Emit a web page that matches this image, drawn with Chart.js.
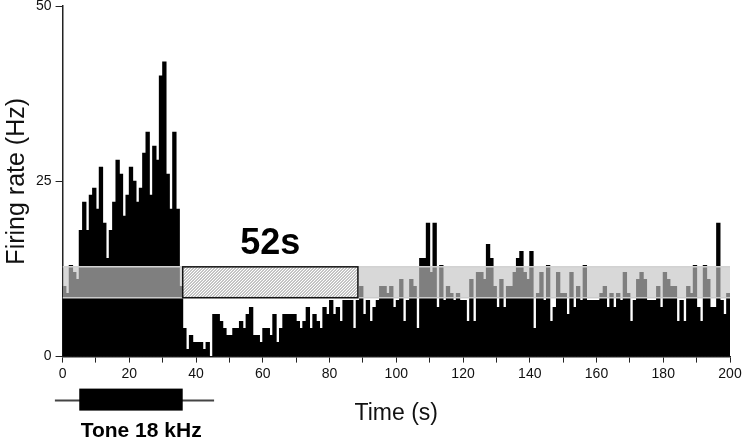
<!DOCTYPE html>
<html>
<head>
<meta charset="utf-8">
<script src="https://cdn.jsdelivr.net/npm/chart.js@4.4.0/dist/chart.umd.min.js"></script>
<style>
  html, body { margin: 0; padding: 0; background: #fff; }
  #wrap { width: 742px; height: 437px; }
</style>
</head>
<body>
<div id="wrap"><canvas id="psth"></canvas></div>
<script>
// firing rate per 1 s bin, t = 0..199 s
const rates = [
  10, 9, 13, 12, 11, 18, 22, 18, 23, 24, 21, 27, 19, 14, 18, 22, 28, 26, 20, 23,
  27, 25, 22, 24, 29, 32, 23, 30, 28, 40, 42, 26, 21, 32, 21, 10, 4, 1, 3, 2,
  2, 2, 1, 2, 0, 6, 6, 5, 4, 3, 3, 4, 4, 5, 4, 6, 7, 3, 3, 2,
  4, 4, 3, 6, 2, 4, 6, 6, 6, 6, 5, 4, 5, 7, 4, 6, 5, 4, 7, 6,
  8, 6, 7, 5, 8, 8, 8, 4, 8, 10, 6, 8, 5, 7, 8, 10, 10, 9, 10, 7,
  8, 11, 5, 8, 11, 10, 4, 14, 14, 19, 12, 19, 7, 13, 8, 10, 9, 8, 9, 8,
  8, 5, 11, 5, 12, 12, 11, 16, 14, 10, 7, 11, 7, 10, 10, 12, 14, 15, 12, 11,
  15, 4, 9, 12, 8, 13, 5, 7, 12, 9, 9, 6, 12, 7, 10, 8, 13, 8, 8, 8,
  8, 9, 10, 7, 9, 7, 9, 8, 12, 9, 5, 8, 11, 12, 11, 8, 8, 8, 10, 7,
  12, 11, 10, 10, 5, 8, 5, 10, 9, 13, 7, 5, 13, 11, 7, 7, 19, 8, 6, 9
];
const binWidth = 1;
const timeMax = 200;
const rateMax = 50;

// baseline band (Hz) and the 52 s window
const bandLow = 8.4;
const bandHigh = 12.8;
const gapStart = 36;
const gapEnd = 88.5;
const gapLabel = '52s';

// tone bar under the axis (s)
const toneStart = 5;
const toneEnd = 36;
const toneLineStart = -2.3;
const toneLineEnd = 45.4;
const toneLabel = 'Tone 18 kHz';

const FONT = "'Liberation Sans', Arial, sans-serif";

const overlay = {
  id: 'overlay',
  afterDatasetsDraw(chart) {
    const { ctx } = chart;
    const x = chart.scales.x, y = chart.scales.y;
    const left = x.getPixelForValue(gapStart);
    const right = x.getPixelForValue(gapEnd);
    const top = y.getPixelForValue(bandHigh);
    const bottom = y.getPixelForValue(bandLow);
    const w = right - left, h = bottom - top;

    ctx.save();
    ctx.fillStyle = '#fff';
    ctx.fillRect(left, top, w, h);
    ctx.beginPath();
    ctx.rect(left, top, w, h);
    ctx.clip();
    ctx.strokeStyle = '#8a8a8a';
    ctx.lineWidth = 1;
    ctx.beginPath();
    for (let i = -h; i < w + h; i += 3) {
      ctx.moveTo(left + i, bottom);
      ctx.lineTo(left + i + h, top);
    }
    ctx.stroke();
    ctx.restore();

    ctx.save();
    ctx.strokeStyle = '#111';
    ctx.lineWidth = 1.5;
    ctx.strokeRect(left, top, w, h);
    ctx.fillStyle = '#000';
    ctx.font = 'bold 36px ' + FONT;
    ctx.textAlign = 'center';
    ctx.textBaseline = 'alphabetic';
    ctx.fillText(gapLabel, (left + right) / 2, top - 13);
    ctx.restore();
  },
  afterDraw(chart) {
    const { ctx } = chart;
    const x = chart.scales.x;
    const base = chart.chartArea.bottom;
    ctx.save();
    ctx.strokeStyle = '#444';
    ctx.lineWidth = 2;
    ctx.beginPath();
    ctx.moveTo(x.getPixelForValue(toneLineStart), base + 44);
    ctx.lineTo(x.getPixelForValue(toneLineEnd), base + 44);
    ctx.stroke();
    const a = x.getPixelForValue(toneStart), b = x.getPixelForValue(toneEnd);
    ctx.fillStyle = '#000';
    ctx.fillRect(a, base + 32, b - a, 22);
    ctx.font = 'bold 21px ' + FONT;
    ctx.textAlign = 'center';
    ctx.textBaseline = 'alphabetic';
    ctx.fillText(toneLabel, x.getPixelForValue((toneLineStart + toneLineEnd) / 2 + 2), base + 80);
    ctx.restore();
  }
};

new Chart(document.getElementById('psth'), {
  type: 'bar',
  data: {
    datasets: [
      {
        type: 'line',
        data: [{ x: 0, y: bandHigh }, { x: timeMax, y: bandHigh }],
        borderColor: '#d2d2d2',
        borderWidth: 1.5,
        pointRadius: 0,
        fill: '+1',
        backgroundColor: 'rgba(195,195,195,0.65)',
        order: 1
      },
      {
        type: 'line',
        data: [{ x: 0, y: bandLow }, { x: timeMax, y: bandLow }],
        borderColor: '#d2d2d2',
        borderWidth: 1.5,
        pointRadius: 0,
        fill: false,
        order: 2
      },
      {
        data: rates.map((r, i) => ({ x: i * binWidth + binWidth / 2, y: r })),
        backgroundColor: '#000',
        borderWidth: 0,
        barPercentage: 1,
        categoryPercentage: 1,
        inflateAmount: 0.5,
        order: 3
      }
    ]
  },
  options: {
    responsive: true,
    maintainAspectRatio: false,
    animation: false,
    devicePixelRatio: 1,
    layout: { padding: { left: 2, right: 12, top: 0, bottom: 10 } },
    plugins: { legend: { display: false }, tooltip: { enabled: false } },
    scales: {
      x: {
        type: 'linear',
        min: 0,
        max: timeMax,
        offset: false,
        grid: { display: true, drawOnChartArea: false, drawTicks: true, tickLength: 6, color: '#222', offset: false },
        border: { display: true, color: '#222', width: 1.5 },
        ticks: {
          stepSize: 10,
          autoSkip: false,
          maxRotation: 0,
          padding: 3,
          color: '#111',
          font: { family: FONT, size: 14 },
          callback: v => (v % 20 === 0 ? v : '')
        },
        title: {
          display: true,
          text: 'Time (s)',
          color: '#111',
          font: { family: FONT, size: 23 },
          padding: { top: 14, bottom: 0 }
        },
        afterFit: scale => { scale.paddingRight = 0; }
      },
      y: {
        min: 0,
        max: rateMax,
        grid: { display: true, drawOnChartArea: false, drawTicks: true, tickLength: 7, color: '#222' },
        border: { display: true, color: '#222', width: 1.5 },
        ticks: {
          stepSize: 25,
          padding: 4,
          color: '#111',
          font: { family: FONT, size: 14 }
        },
        title: {
          display: true,
          text: 'Firing rate (Hz)',
          color: '#111',
          font: { family: FONT, size: 25 },
          padding: { top: 0, bottom: 0 }
        },
        afterFit: scale => { scale.paddingTop = 6; }
      }
    }
  },
  plugins: [overlay]
});
</script>
</body>
</html>
